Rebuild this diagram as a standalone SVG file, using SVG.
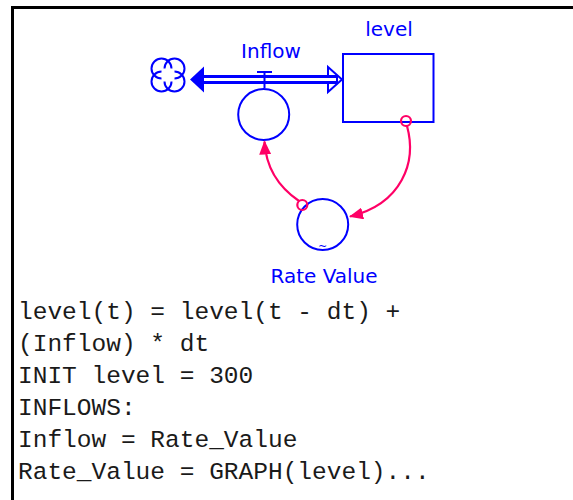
<svg xmlns="http://www.w3.org/2000/svg" width="573" height="500" viewBox="0 0 573 500">
<style>
.blue{stroke:#0000ff;stroke-width:2;fill:none}
.lbl{font-family:"DejaVu Sans",Verdana,sans-serif;font-size:20px;fill:#0000ff;text-anchor:middle}
.conn{stroke:#ff0066;stroke-width:2.2;fill:none}
.code{font-family:"Liberation Mono","Courier New",monospace;font-size:24.5px;fill:#1a1a1a}
</style>
<defs>
<marker id="ah" viewBox="0 0 14 12" refX="13" refY="6" markerWidth="14" markerHeight="12" markerUnits="userSpaceOnUse" orient="auto">
<path d="M0,0 L14,6 L0,12 Z" fill="#ff0066"/>
</marker>
</defs>
<rect x="12.5" y="7.5" width="600" height="520" fill="#fff" stroke="#000" stroke-width="3"/>
<g id="cloud" class="blue">
<path d="M171.5,68.5 A10,10 0 1 0 161.5,78.5"/>
<path d="M174.5,78.5 A10,10 0 1 0 164.5,68.5"/>
<path d="M164.5,81.5 A10,10 0 1 0 174.5,71.5"/>
<path d="M161.5,71.5 A10,10 0 1 0 171.5,81.5"/>
</g>
<g id="flow-Inflow">
<path d="M328,67 L342,79.5 L328,92 Z" fill="#fff" stroke="#0000ff" stroke-width="2"/>
<line x1="200" y1="79.5" x2="338" y2="79.5" stroke="#0000ff" stroke-width="9"/>
<line x1="200" y1="79.5" x2="336" y2="79.5" stroke="#fff" stroke-width="3"/>
<path d="M190,79.5 L204,66.5 L204,92.5 Z" fill="#0000ff"/>
<line x1="257" y1="72" x2="272" y2="72" class="blue"/>
<line x1="264.5" y1="72" x2="264.5" y2="88" class="blue"/>
<circle cx="263.7" cy="114.5" r="25.5" class="blue"/>
<text x="271" y="57.5" class="lbl">Inflow</text>
</g>
<g id="stock-level">
<rect x="343" y="54" width="90.5" height="68" class="blue"/>
<text x="389" y="36" class="lbl">level</text>
</g>
<g id="aux-RateValue">
<circle cx="322.7" cy="224.5" r="25.5" class="blue"/>
<text x="322.7" y="250" style="font-family:'DejaVu Sans',sans-serif;font-size:11px;fill:#0000ff;text-anchor:middle">~</text>
<text x="324" y="283" class="lbl">Rate Value</text>
</g>
<g id="connectors">
<path d="M407,126 C417,162 402,204 350,216.5" class="conn" marker-end="url(#ah)"/>
<circle cx="406" cy="121" r="5" class="conn"/>
<path d="M299,201 C280,188 266,170 264.5,141.5" class="conn" marker-end="url(#ah)"/>
<circle cx="302.3" cy="205" r="5" class="conn"/>
</g>
<g id="equations" class="code">
<text x="18" y="319">level(t) = level(t - dt) +</text>
<text x="18" y="351">(Inflow) * dt</text>
<text x="18" y="383">INIT level = 300</text>
<text x="18" y="415">INFLOWS:</text>
<text x="18" y="447">Inflow = Rate_Value</text>
<text x="18" y="479">Rate_Value = GRAPH(level)...</text>
</g>
</svg>
